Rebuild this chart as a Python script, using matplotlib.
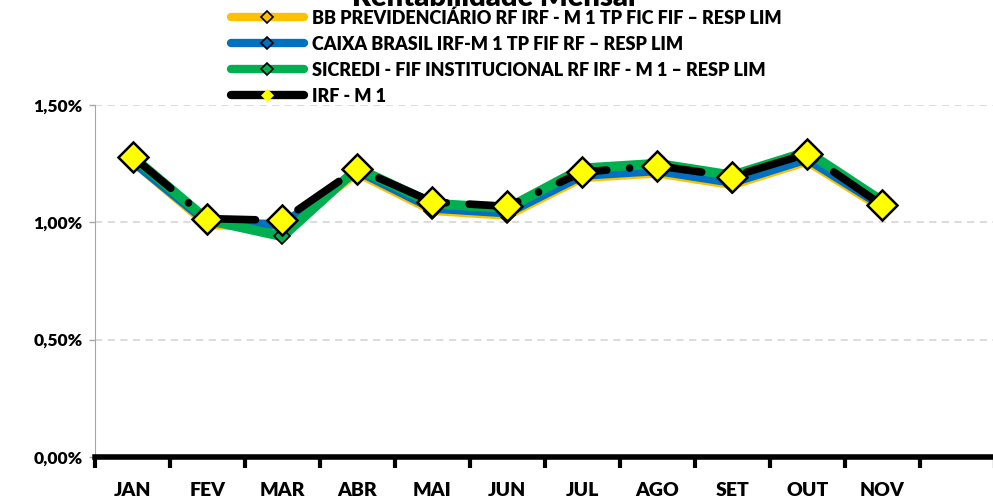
import matplotlib.pyplot as plt
from matplotlib.lines import Line2D
import numpy as np

plt.rcParams['font.family'] = ['Lato', 'DejaVu Sans']
plt.rcParams['font.weight'] = 'bold'

meses = ["JAN", "FEV", "MAR", "ABR", "MAI", "JUN", "JUL", "AGO", "SET", "OUT", "NOV"]
n_slots = 12  # eixo tem espaco para DEZ (vazio)

bb = [1.26, 0.99, 0.98, 1.21, 1.05, 1.03, 1.19, 1.21, 1.16, 1.26, 1.06]
caixa = [1.26, 1.00, 0.99, 1.22, 1.06, 1.04, 1.20, 1.22, 1.17, 1.27, 1.07]
sicredi = [1.28, 1.01, 0.94, 1.23, 1.08, 1.06, 1.23, 1.25, 1.20, 1.30, 1.09]
irfm1 = [1.28, 1.016, 1.008, 1.229, 1.087, 1.068, 1.214, 1.241, 1.195, 1.292, 1.073]

nomes = ["BB PREVIDENCIÁRIO RF IRF - M 1 TP FIC FIF – RESP LIM",
         "CAIXA BRASIL IRF-M 1 TP FIF RF – RESP LIM",
         "SICREDI - FIF INSTITUCIONAL RF IRF - M 1 – RESP LIM",
         "IRF - M 1"]
cores = ["#FFC000", "#0070C0", "#00B050", "#000000"]

fig = plt.figure(figsize=(9.93, 5.0), dpi=100)
ax = fig.add_axes([0.0957, 0.086, 0.906, 0.704])

x = np.arange(len(meses)) + 0.5

ax.plot(x, bb, color=cores[0], lw=6.5, marker="D", ms=8, mfc=cores[0], mec="black", mew=1.2, zorder=3,
        solid_capstyle="round", solid_joinstyle="round")
ax.plot(x, caixa, color=cores[1], lw=6.5, marker="D", ms=8, mfc=cores[1], mec="black", mew=1.2, zorder=4,
        solid_capstyle="round", solid_joinstyle="round")
ax.plot(x, sicredi, color=cores[2], lw=7, marker="D", ms=8, mfc=cores[2], mec="black", mew=1.2, zorder=5,
        solid_capstyle="round", solid_joinstyle="round")
ax.plot(x, irfm1, color="black", lw=5.5, ls=(0, (6.5, 3, 0.01, 3)), dash_capstyle="round", zorder=6)
ax.plot(x, irfm1, ls="none", marker="D", ms=15, mfc="#FFFF00", mec="black", mew=1.8, zorder=7)

ax.set_xlim(0, n_slots)
ax.set_ylim(0, 1.5)
ax.set_yticks([0, 0.5, 1.0, 1.5])
ax.set_yticklabels(["0,00%", "0,50%", "1,00%", "1,50%"], fontsize=12.5, fontweight="heavy")
ax.yaxis.grid(True, color="#D9D9D9", ls=(0, (4, 3)), lw=1.3)
ax.set_axisbelow(True)

ax.set_xticks(np.arange(n_slots + 1))
ax.set_xticklabels([])
ax.set_xticks(x, minor=True)
ax.set_xticklabels(meses, minor=True, fontsize=14, fontweight="heavy")
ax.tick_params(axis="x", which="major", length=8, width=3, color="black", direction="out")
ax.tick_params(axis="x", which="minor", length=0, pad=18)
ax.tick_params(axis="y", length=4, color="#A6A6A6", width=1, pad=5)

ax.spines["top"].set_visible(False)
ax.spines["right"].set_visible(False)
ax.spines["left"].set_color("#A6A6A6")
ax.spines["bottom"].set_linewidth(4)
ax.spines["bottom"].set_zorder(8)

fig.text(0.497, 0.988, "Rentabilidade Mensal", ha="center", va="baseline", fontsize=21, fontweight="heavy")

handles = [
    Line2D([], [], color=cores[0], lw=6, marker="D", ms=6, mfc=cores[0], mec="black", mew=1.2, solid_capstyle="round"),
    Line2D([], [], color=cores[1], lw=6, marker="D", ms=6, mfc=cores[1], mec="black", mew=1.2, solid_capstyle="round"),
    Line2D([], [], color=cores[2], lw=6, marker="D", ms=6, mfc=cores[2], mec="black", mew=1.2, solid_capstyle="round"),
    Line2D([], [], color="black", lw=6, marker="D", ms=6, mfc="#FFFF00", mec="#FFFF00", mew=0.5, solid_capstyle="round"),
]
fig.legend(handles, nomes, loc="upper left", bbox_to_anchor=(0.233, 0.982), frameon=False,
           prop={"size": 13, "weight": "heavy"}, handlelength=4.0, handletextpad=0.45, labelspacing=0.5,
           borderpad=0, borderaxespad=0)

fig.savefig("out.png", dpi=100)
